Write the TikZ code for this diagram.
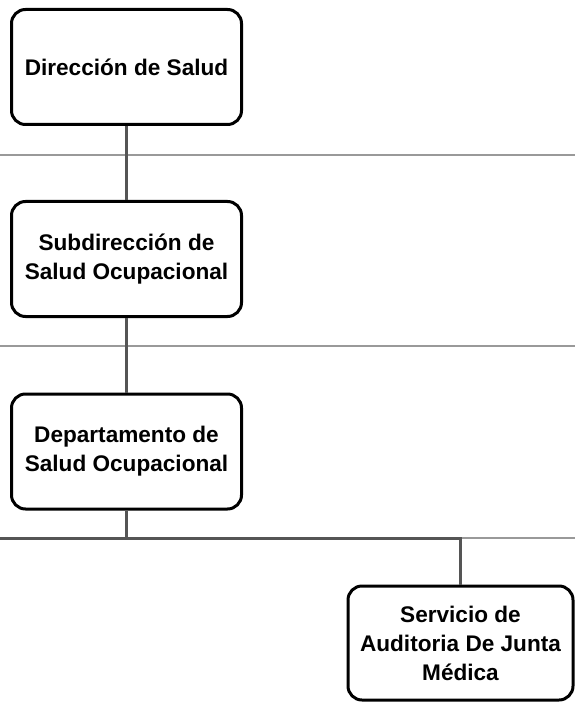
\documentclass[tikz,border=0pt]{standalone}
\usepackage{fontspec}
\setmainfont{Liberation Sans}
\definecolor{sepgray}{HTML}{999999}
\definecolor{linkgray}{HTML}{555555}
\tikzset{
  unit/.style={draw=black, fill=white, line width=3pt, rounded corners=14pt,
    align=center, font=\bfseries\fontsize{22.6}{29}\selectfont,
    minimum width=230pt, minimum height=115pt, inner sep=0pt},
  link/.style={draw=linkgray, line width=3pt},
  lane/.style={draw=sepgray, line width=1.5pt}
}
\begin{document}
\begin{tikzpicture}[x=1pt, y=-1pt]

  \newcommand\LX{126.5}
  \useasboundingbox (0,0) rectangle (575,703);

  % lanes
  \draw[lane] (0,155) -- (575,155);
  \draw[lane] (0,346) -- (575,346);
  \draw[lane] (0,538) -- (575,538);

  \node[unit] (dir) at (\LX,67) {Dirección de Salud};
  \node[unit] (subdir) at (\LX,259) {Subdirección de\\Salud Ocupacional};
  \node[unit] (depto) at (\LX,451.5) {Departamento de\\Salud Ocupacional};
  \node[unit, minimum width=225pt, minimum height=114pt] (audit) at (460.5,643)
    {Servicio de\\Auditoria De Junta\\Médica};

  \coordinate (bus) at (\LX,538);
  \coordinate (busleft) at (0,538);

  \draw[link] (dir) -- (subdir);
  \draw[link] (subdir) -- (depto);
  \draw[link] (depto) -- (bus);
  \draw[link] (busleft) -| (audit);

\end{tikzpicture}
\end{document}
